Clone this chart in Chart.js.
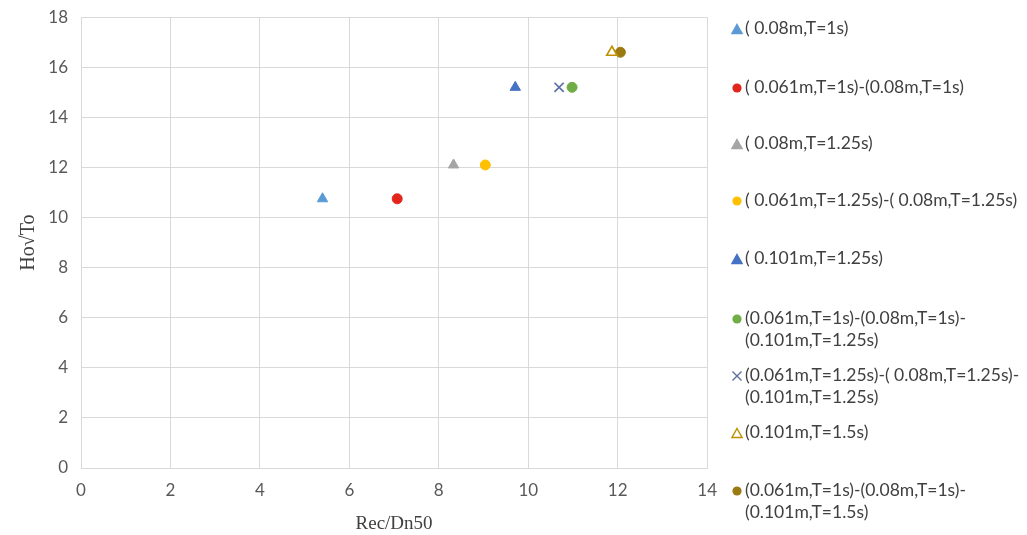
<!DOCTYPE html>
<html>
<head>
<meta charset="utf-8">
<script src="https://cdn.jsdelivr.net/npm/chart.js@4.4.0/dist/chart.umd.min.js"></script>
<style>
    body { margin: 0; background: #fff; overflow: hidden; }
    #wrap { position: relative; width: 1027px; height: 535px; overflow: hidden; }
    #chartBox { position: absolute; left: 0; top: -6px; width: 729px; height: 541px; }
    #legend { position: absolute; left: 0; top: 0; width: 1027px; height: 535px; pointer-events: none;
              font-family: Lato, "Liberation Sans", sans-serif; font-size: 17.5px; color: #404040; }
    .item { position: absolute; left: 731px; line-height: 22px; white-space: nowrap; }
    .item svg { position: absolute; left: 0; top: 6px; }
    .item span { display: block; margin-left: 14px; }
</style>
</head>
<body>
<div id="wrap">
    <div id="chartBox"><canvas id="scatterChart"></canvas></div>
    <div id="legend"></div>
</div>
<script>
// data dari grafik
const seriesNames = [
    ['( 0.08m,T=1s)'],
    ['( 0.061m,T=1s)-(0.08m,T=1s)'],
    ['( 0.08m,T=1.25s)'],
    ['( 0.061m,T=1.25s)-( 0.08m,T=1.25s)'],
    ['( 0.101m,T=1.25s)'],
    ['(0.061m,T=1s)-(0.08m,T=1s)-', '(0.101m,T=1.25s)'],
    ['(0.061m,T=1.25s)-( 0.08m,T=1.25s)-', '(0.101m,T=1.25s)'],
    ['(0.101m,T=1.5s)'],
    ['(0.061m,T=1s)-(0.08m,T=1s)-', '(0.101m,T=1.5s)']
];
const xValues = [5.40, 7.07, 8.33, 9.04, 9.71, 10.98, 10.69, 11.87, 12.06];
const yValues = [10.75, 10.75, 12.1, 12.1, 15.2, 15.2, 15.2, 16.6, 16.6];
const xTicks = [0, 2, 4, 6, 8, 10, 12, 14];
const yTicks = [0, 2, 4, 6, 8, 10, 12, 14, 16, 18];

// gaya penanda
const markerStyles = [
    { shape: 'triangle', fill: '#5b9bd5', stroke: '#5b9bd5' },
    { shape: 'circle', fill: '#e3261c', stroke: '#e3261c' },
    { shape: 'triangle', fill: '#a5a5a5', stroke: '#a5a5a5' },
    { shape: 'circle', fill: '#ffc000', stroke: '#ffc000' },
    { shape: 'triangle', fill: '#4472c4', stroke: '#4472c4' },
    { shape: 'circle', fill: '#70ad47', stroke: '#70ad47' },
    { shape: 'crossRot', fill: '#5b6fa6', stroke: '#5b6fa6' },
    { shape: 'triangle', fill: '#ffffff', stroke: '#bf9000' },
    { shape: 'circle', fill: '#9c7a12', stroke: '#9c7a12' }
];
const legendTops = [17, 76, 132, 189, 247, 307, 364, 421, 479];

function markerRadius(shape) {
    if (shape === 'triangle') return 6;
    if (shape === 'crossRot') return 6.5;
    return 5;
}

const datasets = seriesNames.map((name, i) => ({
    label: name.join(' '),
    data: [{ x: xValues[i], y: yValues[i] }],
    pointStyle: markerStyles[i].shape,
    backgroundColor: markerStyles[i].fill,
    borderColor: markerStyles[i].stroke,
    borderWidth: markerStyles[i].shape === 'crossRot' ? 1.7 : (markerStyles[i].fill === '#ffffff' ? 1.6 : 1),
    pointRadius: markerRadius(markerStyles[i].shape)
}));

const ctx = document.getElementById('scatterChart').getContext('2d');
new Chart(ctx, {
    type: 'scatter',
    data: { datasets: datasets },
    options: {
        responsive: true,
        maintainAspectRatio: false,
        animation: false,
        layout: { padding: { top: 10, right: 5, left: 0, bottom: 0 } },
        plugins: {
            legend: { display: false },
            tooltip: { enabled: false }
        },
        scales: {
            x: {
                type: 'linear',
                min: 0,
                max: 14,
                afterBuildTicks: function(scale) {
                    scale.ticks = xTicks.map(v => ({ value: v }));
                },
                afterFit: function(scale) { scale.height = 67; },
                grid: { color: '#d9d9d9', drawTicks: false },
                border: { color: '#d9d9d9' },
                ticks: { color: '#595959', padding: 12, font: { family: 'Lato', size: 17 } },
                title: {
                    display: true,
                    text: 'Rec/Dn50',
                    color: '#404040',
                    font: { family: 'Liberation Serif', size: 19 },
                    padding: { top: 3, bottom: 0 }
                }
            },
            y: {
                type: 'linear',
                min: 0,
                max: 18,
                afterBuildTicks: function(scale) {
                    scale.ticks = yTicks.map(v => ({ value: v }));
                },
                afterFit: function(scale) { scale.width = 81; },
                grid: { color: '#d9d9d9', drawTicks: false },
                border: { color: '#d9d9d9' },
                ticks: { color: '#595959', padding: 13, font: { family: 'Lato', size: 17 } },
                title: {
                    display: true,
                    text: 'Ho√To',
                    color: '#404040',
                    font: { family: 'Liberation Serif', size: 20 },
                    padding: { top: 17, bottom: 0 }
                }
            }
        }
    }
});

// legenda HTML (label dua baris)
function markerSvg(st) {
    let body = '';
    if (st.shape === 'triangle') {
        body = '<polygon points="6,1.5 11,10.5 1,10.5" fill="' + st.fill + '" stroke="' + st.stroke + '" stroke-width="1.4"/>';
    } else if (st.shape === 'circle') {
        body = '<circle cx="6" cy="6" r="4.6" fill="' + st.fill + '"/>';
    } else {
        body = '<path d="M1.5 1.5 L10.5 10.5 M10.5 1.5 L1.5 10.5" stroke="' + st.stroke + '" stroke-width="1.4"/>';
    }
    return '<svg width="12" height="12" viewBox="0 0 12 12">' + body + '</svg>';
}

const legendEl = document.getElementById('legend');
seriesNames.forEach((name, i) => {
    const div = document.createElement('div');
    div.className = 'item';
    div.style.top = legendTops[i] + 'px';
    div.innerHTML = markerSvg(markerStyles[i]) + name.map(t => '<span>' + t + '</span>').join('');
    legendEl.appendChild(div);
});
</script>
</body>
</html>
